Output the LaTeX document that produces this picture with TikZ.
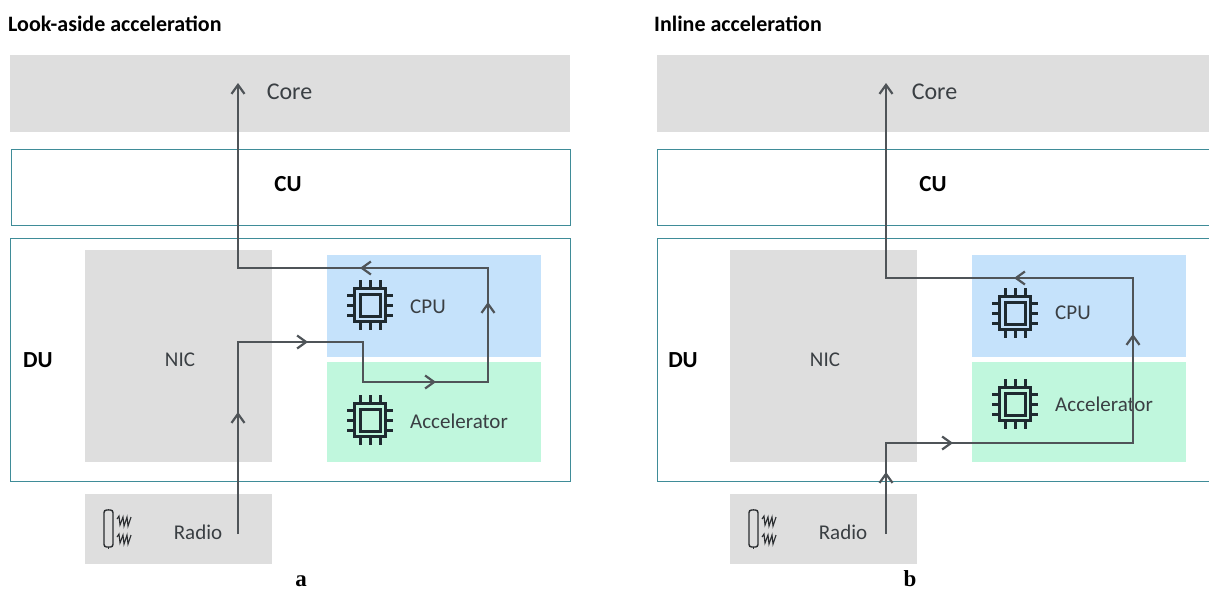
\documentclass[tikz,border=0pt]{standalone}
\usepackage{fontspec}
\setmainfont{Carlito}
\newfontfamily\capfont{Liberation Serif}
\usetikzlibrary{arrows.meta,decorations.markings}
\definecolor{coregray}{HTML}{DEDEDE}
\definecolor{teal1}{HTML}{3F8C98}
\definecolor{cpublue}{HTML}{C5E2FB}
\definecolor{accgreen}{HTML}{C0F7DD}
\definecolor{flowc}{HTML}{4F5458}
\definecolor{txt}{HTML}{3A3F43}
\definecolor{chipc}{HTML}{1F2A30}
\newcommand{\barbtip}{\arrow{Straight Barb[length=9pt,width=13pt,line width=2.2pt]}}
\tikzset{
  x=1pt,y=-1pt,
  graybox/.style={fill=coregray,draw=none,inner sep=0pt,outer sep=0pt},
  tealbox/.style={fill=white,draw=teal1,line width=1pt,inner sep=0pt,outer sep=0pt},
  cpubox/.style={fill=cpublue,draw=none,inner sep=0pt,outer sep=0pt},
  accbox/.style={fill=accgreen,draw=none,inner sep=0pt,outer sep=0pt},
  label/.style={text=txt,font=\fontsize{21}{23}\selectfont,inner sep=0pt},
  corelabel/.style={text=txt,font=\fontsize{24}{26}\selectfont,inner sep=0pt},
  boldlabel/.style={text=black,font=\fontsize{23}{25}\selectfont\bfseries,inner sep=0pt},
  titlelabel/.style={text=black,font=\fontsize{22}{24}\selectfont\bfseries,inner sep=0pt,anchor=west},
  caplabel/.style={text=black,font=\capfont\fontsize{23}{25}\selectfont\bfseries,inner sep=0pt,anchor=base},
  flow/.style={draw=flowc,line width=2.2pt,line join=miter},
  chip/.pic={
    \draw[chipc,line width=2.6pt] (-15.5,-16.5) rectangle (15.5,16.5);
    \draw[chipc,line width=3pt] (-10,-11) rectangle (10,11);
    \foreach \k in {-10,0,10}{
      \draw[chipc,line width=3pt] (\k,-17) -- (\k,-25);
      \draw[chipc,line width=3pt] (\k,17) -- (\k,25);
      \draw[chipc,line width=3pt] (-16,\k) -- (-23,\k);
      \draw[chipc,line width=3pt] (16,\k) -- (23,\k);
    }
  },
  antenna/.pic={
    \draw[txt!70!black,line width=1.4pt,rounded corners=2.5pt] (0,0) rectangle (9,37);
    \draw[txt!70!black,line width=1.2pt] (4.5,0) -- (4.5,-1.5) (4.5,37) -- (4.5,38.5);
    \foreach \y in {7,25}{
      \draw[txt!70!black,line width=1.1pt] (13,\y+2) -- (15,\y-1) -- (16,\y+8) -- (19,\y) -- (20,\y+9) -- (23,\y) -- (24,\y+9) -- (27,\y);
    }
  }
}
\begin{document}
\begin{tikzpicture}
\useasboundingbox (0,0) rectangle (1209,592);
\clip (0,0) rectangle (1209,592);
% ---------- panel a
\node[titlelabel] (ta) at (8,24) {Look-aside acceleration};
\node[graybox,minimum width=560pt,minimum height=77pt] (corea) at (290,93.5) {};
\node[tealbox,minimum width=559pt,minimum height=76pt] (cua) at (290.5,187) {};
\node[tealbox,minimum width=560pt,minimum height=243pt] (dua) at (290,359.5) {};
\node[graybox,minimum width=187pt,minimum height=212pt] (nica) at (178.5,356) {};
\node[cpubox,minimum width=214pt,minimum height=102pt] (cpua) at (434,306) {};
\node[accbox,minimum width=214pt,minimum height=100pt] (acca) at (434,412) {};
\node[graybox,minimum width=187pt,minimum height=70pt] (radioa) at (178.5,529) {};
\node[corelabel] (lcorea) at (289.5,92) {Core};
\node[boldlabel] (lcua) at (288,184) {CU};
\node[boldlabel] (ldua) at (38,360) {DU};
\node[label] (lnica) at (180,360) {NIC};
\node[label,anchor=west] (lcpua) at (410,307) {CPU};
\node[label,anchor=west] (lacca) at (410,421) {Accelerator};
\node[label] (lradioa) at (198,532) {Radio};
\pic at (370,305) {chip};
\pic at (370,420) {chip};
\pic at (104,510) {antenna};
\node[caplabel] (capa) at (301,586) {a};
\coordinate (a0) at (238,534);
\coordinate (a1) at (238,342);
\coordinate (a2) at (363,342);
\coordinate (a3) at (363,382);
\coordinate (a4) at (488,382);
\coordinate (a5) at (488,268);
\coordinate (a6) at (238,268);
\coordinate (a7) at (238,83);
\draw[flow,-{Straight Barb[length=9pt,width=13pt]},postaction={decorate},
  decoration={markings,
    mark=at position 122pt with {\barbtip},
    mark=at position 262pt with {\barbtip},
    mark=at position 430pt with {\barbtip},
    mark=at position 562pt with {\barbtip},
    mark=at position 724pt with {\barbtip}}]
  (a0) -- (a1) -- (a2) -- (a3) -- (a4) -- (a5) -- (a6) -- (a7);
% ---------- panel b
\node[titlelabel] (tb) at (654,24) {Inline acceleration};
\node[graybox,minimum width=560pt,minimum height=77pt] (coreb) at (937,93.5) {};
\node[tealbox,minimum width=560pt,minimum height=76pt] (cub) at (937,187) {};
\node[tealbox,minimum width=560pt,minimum height=243pt] (dub) at (937,359.5) {};
\node[graybox,minimum width=187pt,minimum height=212pt] (nicb) at (823.5,356) {};
\node[cpubox,minimum width=214pt,minimum height=102pt] (cpub) at (1079,306) {};
\node[accbox,minimum width=214pt,minimum height=100pt] (accb) at (1079,412) {};
\node[graybox,minimum width=187pt,minimum height=70pt] (radiob) at (823.5,529) {};
\node[corelabel] (lcoreb) at (934.5,92) {Core};
\node[boldlabel] (lcub) at (933,184) {CU};
\node[boldlabel] (ldub) at (683,360) {DU};
\node[label] (lnicb) at (825,360) {NIC};
\node[label,anchor=west] (lcpub) at (1055,313) {CPU};
\node[label,anchor=west] (laccb) at (1055,404) {Accelerator};
\node[label] (lradiob) at (843,532) {Radio};
\pic at (1015,313) {chip};
\pic at (1015,404) {chip};
\pic at (749,510) {antenna};
\node[caplabel] (capb) at (910,586) {b};
\coordinate (b0) at (886,534);
\coordinate (b1) at (886,443);
\coordinate (b2) at (1133,443);
\coordinate (b3) at (1133,278);
\coordinate (b4) at (886,278);
\coordinate (b5) at (886,83);
\draw[flow,-{Straight Barb[length=9pt,width=13pt]},postaction={decorate},
  decoration={markings,
    mark=at position 62pt with {\barbtip},
    mark=at position 158pt with {\barbtip},
    mark=at position 447pt with {\barbtip},
    mark=at position 622pt with {\barbtip}}]
  (b0) -- (b1) -- (b2) -- (b3) -- (b4) -- (b5);
\end{tikzpicture}
\end{document}
